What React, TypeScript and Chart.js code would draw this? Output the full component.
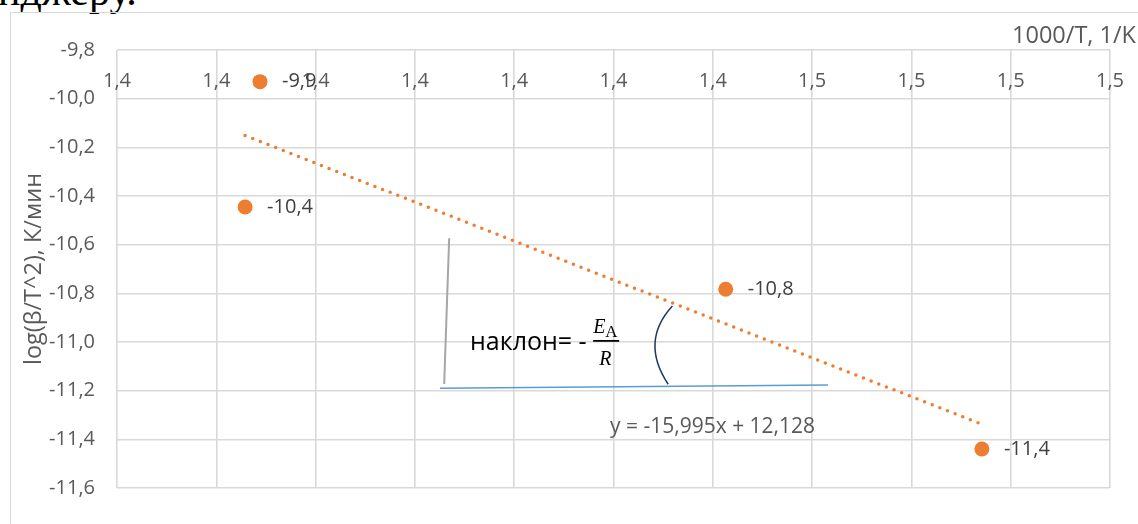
import React, { useEffect, useRef } from "react";
import { Chart, registerables } from "chart.js";

Chart.register(...registerables);

// ---- data ----
const xValues = [1.3944, 1.3929, 1.4413, 1.4671];
const yValues = [-9.93, -10.445, -10.783, -11.44];
const xTickValues = [1.38, 1.39, 1.4, 1.41, 1.42, 1.43, 1.44, 1.45, 1.46, 1.47, 1.48];
const xTickLabels = ["1,4", "1,4", "1,4", "1,4", "1,4", "1,4", "1,4", "1,5", "1,5", "1,5", "1,5"];
const yTickValues = [-9.8, -10.0, -10.2, -10.4, -10.6, -10.8, -11.0, -11.2, -11.4, -11.6];
const trendSlope = -15.995;
const trendIntercept = 12.128;
const trendLabel = "y = -15,995x + 12,128";
const xTitle = "1000/T, 1/K";
const yTitle = "log(β/T^2), К/мин";
const slopeText = "наклон= - ";
const xAxisCross = -10.0;

const FONT = "'Open Sans', 'Liberation Sans', sans-serif";
const fmt = (v: number) => v.toFixed(1).replace(".", ",");

const overlayPlugin = {
  id: "overlay",
  afterDatasetsDraw(chart: any) {
    const { ctx } = chart;
    const xs = chart.scales.x;
    const ys = chart.scales.y;
    const X = (v: number) => xs.getPixelForValue(v);
    const Y = (v: number) => ys.getPixelForValue(v);
    ctx.save();

    // x tick labels above the axis crossing line
    ctx.font = `20px ${FONT}`;
    ctx.fillStyle = "#595959";
    ctx.textAlign = "center";
    ctx.textBaseline = "middle";
    const labelY = Y(xAxisCross) - 17;
    xTickValues.forEach((v, i) => ctx.fillText(xTickLabels[i], X(v), labelY));

    // x title
    ctx.font = `23.5px ${FONT}`;
    ctx.textAlign = "right";
    ctx.fillText(xTitle, chart.width - 2, chart.chartArea.top - 14);

    // data labels
    ctx.font = `20px ${FONT}`;
    ctx.fillStyle = "#404040";
    ctx.textAlign = "left";
    xValues.forEach((xv, i) => {
      ctx.fillText(fmt(yValues[i]), X(xv) + 22, Y(yValues[i]));
    });

    // trend equation
    ctx.fillStyle = "#595959";
    ctx.font = `21px ${FONT}`;
    ctx.fillText(trendLabel, X(1.42965), Y(-11.3492));

    // grey vertical line
    ctx.lineCap = "butt";
    ctx.strokeStyle = "#A6A6A6";
    ctx.lineWidth = 2;
    ctx.beginPath();
    ctx.moveTo(X(1.41345), Y(-10.5738));
    ctx.lineTo(X(1.41295), Y(-11.1725));
    ctx.stroke();

    // blue base line
    ctx.strokeStyle = "#5B9BD5";
    ctx.lineWidth = 1.5;
    ctx.beginPath();
    ctx.moveTo(X(1.41253), Y(-11.1902));
    ctx.lineTo(X(1.4516), Y(-11.1766));
    ctx.stroke();

    // angle arc
    ctx.strokeStyle = "#1F3864";
    ctx.lineWidth = 1.5;
    ctx.beginPath();
    ctx.moveTo(X(1.43593), Y(-10.852));
    ctx.quadraticCurveTo(X(1.43264), Y(-10.9977), X(1.43551), Y(-11.1737));
    ctx.stroke();

    // slope text
    const tx = X(1.41555);
    const ty = Y(-11.0328);
    ctx.fillStyle = "#000000";
    ctx.font = `25px ${FONT}`;
    ctx.textBaseline = "alphabetic";
    ctx.fillText(slopeText, tx, ty);
    const w = ctx.measureText(slopeText).width;
    const fx = tx + w;
    ctx.font = `italic 20px 'Liberation Serif', serif`;
    ctx.fillText("E", fx, ty - 17);
    const ew = ctx.measureText("E").width;
    ctx.font = `17px 'Liberation Serif', serif`;
    ctx.fillText("A", fx + ew, ty - 13);
    ctx.fillRect(fx, ty - 10, 26, 1.8);
    ctx.font = `italic 20px 'Liberation Serif', serif`;
    ctx.fillText("R", fx + 6, ty + 15);

    ctx.restore();
  },
};

export default function App() {
  const ref = useRef<HTMLCanvasElement>(null);
  useEffect(() => {
    if (!ref.current) return;
    const xmin = Math.min(...xValues);
    const xmax = Math.max(...xValues);
    const chart = new Chart(ref.current, {
      type: "scatter",
      data: {
        datasets: [
          {
            label: "data",
            data: xValues.map((x, i) => ({ x, y: yValues[i] })),
            backgroundColor: "#ED7D31",
            borderWidth: 0,
            pointRadius: 7.5,
            pointHoverRadius: 7.5,
            order: 1,
          },
          {
            label: "trend",
            type: "line",
            data: [
              { x: xmin, y: trendSlope * xmin + trendIntercept },
              { x: xmax, y: trendSlope * xmax + trendIntercept },
            ],
            borderColor: "#ED7D31",
            borderWidth: 3.5,
            borderDash: [0, 8.2],
            borderCapStyle: "round",
            pointRadius: 0,
            fill: false,
            order: 2,
          } as any,
        ],
      },
      options: {
        animation: false,
        responsive: false,
        events: [],
        layout: { padding: { left: 0, top: 50, right: 28, bottom: 36 } },
        plugins: { legend: { display: false }, tooltip: { enabled: false } },
        scales: {
          x: {
            type: "linear",
            position: "top",
            min: 1.38,
            max: 1.48,
            afterBuildTicks: (s: any) => {
              s.ticks = xTickValues.map((v) => ({ value: v }));
            },
            afterFit: (s: any) => {
              s.height = 0;
            },
            ticks: { display: false },
            grid: { color: "#D9D9D9", lineWidth: 1.6, drawTicks: false },
            border: { display: false },
          },
          y: {
            type: "linear",
            min: -11.6,
            max: -9.8,
            afterBuildTicks: (s: any) => {
              s.ticks = yTickValues.map((v) => ({ value: v }));
            },
            afterFit: (s: any) => {
              s.width = 117;
            },
            ticks: {
              callback: (v: any) => fmt(Number(v)),
              font: { size: 20, family: FONT },
              color: "#595959",
              padding: 22,
              autoSkip: false,
            },
            title: {
              display: true,
              text: yTitle,
              font: { size: 23.5, family: FONT, weight: "normal" },
              color: "#595959",
              padding: { top: 20, bottom: 0 },
            },
            grid: { color: "#D9D9D9", lineWidth: 1.6, drawTicks: false },
            border: { display: false },
          },
        },
      },
      plugins: [overlayPlugin],
    });
    return () => chart.destroy();
  }, []);

  return (
    <div
      style={{
        position: "fixed",
        left: 0,
        top: 0,
        width: 1138,
        height: 524,
        overflow: "hidden",
        background: "#ffffff",
      }}
    >
      <div
        style={{
          position: "absolute",
          left: -2,
          top: -33,
          fontFamily: "'Liberation Serif', 'Times New Roman', serif",
          fontSize: 42,
          lineHeight: "48px",
          color: "#000",
          whiteSpace: "nowrap",
        }}
      >
        нджеру.
      </div>
      <div
        style={{
          position: "absolute",
          left: 10,
          top: 12,
          width: 1200,
          height: 600,
          border: "1.5px solid #D9D9D9",
          boxSizing: "border-box",
        }}
      />
      <canvas
        ref={ref}
        width={1138}
        height={524}
        style={{ position: "absolute", left: 0, top: 0, width: 1138, height: 524 }}
      />
    </div>
  );
}
